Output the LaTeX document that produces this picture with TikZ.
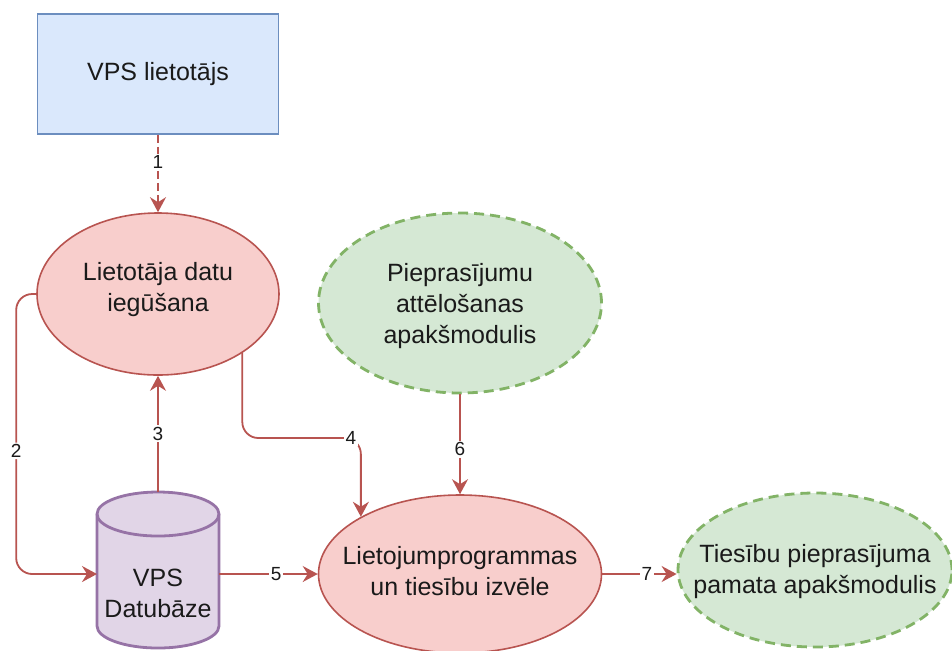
\documentclass[tikz,border=0pt]{standalone}
\usepackage{fontspec}
\setmainfont{Liberation Sans}
\usetikzlibrary{shapes.geometric,arrows.meta,calc}
\definecolor{bluefill}{HTML}{DAE8FC}
\definecolor{bluedraw}{HTML}{6C8EBF}
\definecolor{redfill}{HTML}{F8CECC}
\definecolor{reddraw}{HTML}{B85450}
\definecolor{greenfill}{HTML}{D5E8D4}
\definecolor{greendraw}{HTML}{82B366}
\definecolor{purplefill}{HTML}{E1D5E7}
\definecolor{purpledraw}{HTML}{9673A6}
\definecolor{txt}{HTML}{1A1A1A}
\begin{document}
\begin{tikzpicture}[x=0.5pt,y=-0.5pt,
  every node/.style={font=\fontsize{12.5}{15.5}\selectfont, text=txt, align=center},
  boxnode/.style={rectangle, draw=bluedraw, fill=bluefill, line width=0.8pt, minimum width=120.5pt, minimum height=60pt, inner sep=0pt},
  redell/.style={ellipse, draw=reddraw, fill=redfill, line width=0.8pt, inner sep=0pt},
  greenell/.style={ellipse, draw=greendraw, fill=greenfill, line width=1.4pt, dash pattern=on 5pt off 3pt, inner sep=0pt},
  edge/.style={draw=reddraw, line width=0.9pt, -{Stealth[length=7.5pt,width=8pt,inset=2.5pt]}},
  lbl/.style={fill=white, inner sep=0.8pt, font=\fontsize{9.5}{11}\selectfont}
]
\clip (0,0) rectangle (952,650);
\fill[white] (0,0) rectangle (952,650);

% shapes
\node[boxnode] (user) at (158,74) {VPS lietotājs};
\node[redell, minimum width=121pt, minimum height=81pt] (get) at (158,294) {};
\node (gett) at (158,290) {Lietotāja datu\\iegūšana};
\node[greenell, minimum width=141.5pt, minimum height=90pt] (show) at (460,303) {};
\node (showt) at (460,306) {Pieprasījumu\\attēlošanas\\apakšmodulis};
\node[redell, minimum width=141.5pt, minimum height=79pt] (sel) at (460,574) {};
\node (selt) at (460,571.5) {Lietojumprogrammas\\un tiesību izvēle};
\node[greenell, minimum width=137pt, minimum height=77pt] (base) at (815,570) {};
\node (baset) at (815,571.5) {Tiesību pieprasījuma\\pamata apakšmodulis};

% cylinder
\path[fill=purplefill, draw=purpledraw, line width=1.4pt]
  (97,514) -- (97,626) arc[start angle=180, end angle=360, x radius=30.5pt, y radius=11pt]
  -- (219,514) arc[start angle=0, end angle=180, x radius=30.5pt, y radius=11pt] -- cycle;
\draw[purpledraw, line width=1.4pt] (97,514) arc[start angle=180, end angle=360, x radius=30.5pt, y radius=11pt];
\node[minimum width=61pt, minimum height=78pt, inner sep=0pt] (db) at (158,570) {};
\node (dbt) at (158,593) {VPS\\Datubāze};
\coordinate (dbw) at (97,574);
\coordinate (dbe) at (219,574);
\coordinate (y4) at (0,438);
\coordinate (c4) at (sel.150.5 |- y4);

% edges
\draw[edge, dash pattern=on 4pt off 2pt] (user.south) -- (get.north) node[lbl, pos=0.35] (l1) {1};
\draw[edge, rounded corners=8pt] (get.west) -- ++(-20,0) |- (dbw) node[lbl, pos=0.28] (l2) {2};
\draw[edge] (db.north) -- (get.south) node[lbl, pos=0.5] (l3) {3};
\draw[edge, rounded corners=8pt] (get.-35) |- (c4) -- (sel.150.5);
\node[lbl] (l4) at ([xshift=-5pt]c4) {4};
\draw[edge] (dbe) -- (sel.west) node[lbl, pos=0.58] (l5) {5};
\draw[edge] (show.south) -- (sel.north) node[lbl, pos=0.55] (l6) {6};
\draw[edge] (sel.east) -- (sel.east -| base.west) node[lbl, pos=0.6] (l7) {7};
\end{tikzpicture}
\end{document}
